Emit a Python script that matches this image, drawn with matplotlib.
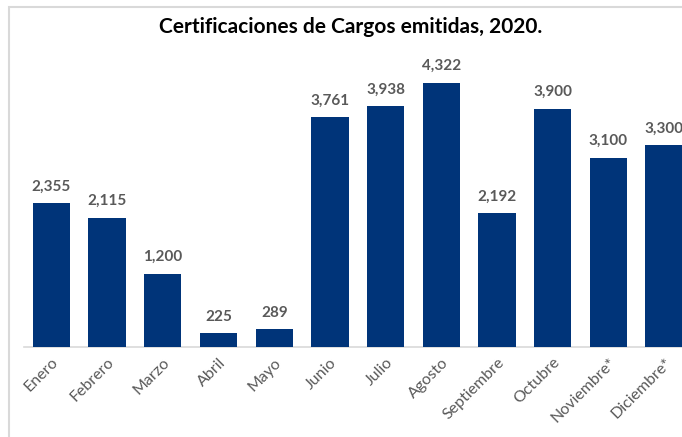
import matplotlib
matplotlib.use('Agg')
import matplotlib.pyplot as plt
from matplotlib.patches import Rectangle

#===========data===========
meses = ["Enero", "Febrero", "Marzo", "Abril", "Mayo", "Junio", "Julio",
         "Agosto", "Septiembre", "Octubre", "Noviembre*", "Diciembre*"]
certificaciones = [2355, 2115, 1200, 225, 289, 3761, 3938, 4322, 2192, 3900, 3100, 3300]
titulo = "Certificaciones de Cargos emitidas, 2020."

plt.rcParams['font.family'] = ['Lato', 'DejaVu Sans']

fig = plt.figure(figsize=(6.82, 4.37), dpi=100)
ax = fig.add_axes([0.0346, 0.206, 0.98, 0.699])

# marco del gráfico
fig.patches.append(Rectangle((9/682, -0.1), 1.2, 1 - 7/437 + 0.1, transform=fig.transFigure,
                             fill=False, edgecolor="#d9d9d9", linewidth=1.5, zorder=0))

x = range(len(meses))
bars = ax.bar(x, certificaciones, width=0.67, color="#003479", zorder=3)

for xi, v in zip(x, certificaciones):
  ax.annotate(f"{v:,}", (xi, v), xytext=(0, 7), textcoords="offset points",
              ha="center", va="bottom", fontsize=11, fontweight="bold", color="#595959")

ax.set_xlim(-0.5, 11.5)
ax.set_ylim(0, 5000)
ax.set_xticks(list(x))
ax.set_xticklabels(meses, rotation=45, ha="right", rotation_mode="anchor", fontsize=11.5, color="#595959")
ax.tick_params(axis="x", length=0, pad=6)
ax.set_yticks([])
for s in ["top", "right", "left"]:
  ax.spines[s].set_visible(False)
ax.spines["bottom"].set_color("#d9d9d9")
ax.spines["bottom"].set_linewidth(1.2)

fig.text(351/682, 1 - 27/437, titulo, ha="center", va="center", fontsize=15, fontweight="bold", color="black")

fig.savefig("out.png", dpi=100)
